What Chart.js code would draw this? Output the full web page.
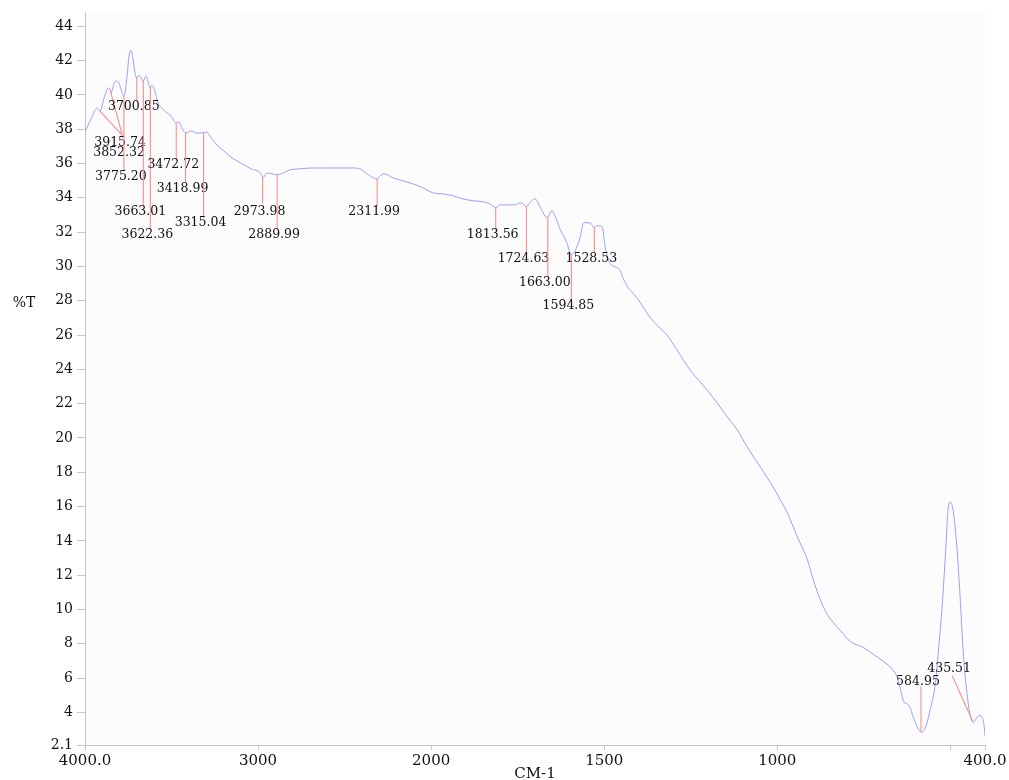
<!DOCTYPE html>
<html>
<head>
<meta charset="utf-8">
<script src="https://cdn.jsdelivr.net/npm/chart.js@4.4.1/dist/chart.umd.min.js"></script>
<style>
  html, body { margin: 0; padding: 0; background: #fff; }
  #wrap { width: 1009px; height: 780px; }
</style>
</head>
<body>
<div id="wrap"><canvas id="chart" width="1009" height="780"></canvas></div>
<script>
// IR spectrum (cm-1 / %T)
const wavenumbers = [
  4000, 3965, 3931, 3913, 3890, 3867, 3856, 3850, 3832, 3821,
  3804, 3792, 3775, 3757, 3746, 3734, 3723, 3711, 3700, 3688,
  3676, 3665, 3648, 3636, 3624, 3613, 3596, 3578, 3555, 3526,
  3503, 3474, 3457, 3440, 3417, 3388, 3353, 3324, 3295, 3278,
  3243, 3197, 3151, 3099, 3041, 2983, 2972, 2949, 2920, 2891,
  2856, 2815, 2758, 2683, 2602, 2527, 2452, 2411, 2371, 2342,
  2313, 2295, 2272, 2220, 2163, 2105, 2047, 1995, 1966, 1937,
  1908, 1879, 1850, 1830, 1813, 1801, 1781, 1758, 1743, 1735,
  1726, 1715, 1700, 1691, 1677, 1665, 1651, 1642, 1628, 1608,
  1596, 1584, 1570, 1559, 1547, 1535, 1530, 1521, 1506, 1497,
  1483, 1469, 1454, 1445, 1431, 1416, 1396, 1376, 1347, 1318,
  1289, 1251, 1202, 1173, 1144, 1115, 1087, 1049, 1012, 991,
  971, 942, 913, 896, 876, 855, 838, 818, 789, 751,
  722, 693, 667, 653, 644, 635, 627, 618, 607, 595,
  584, 572, 558, 543, 535, 523, 514, 506, 500, 491,
  480, 471, 462, 451, 442, 434, 425, 416, 408, 402,
  400
]
const transmittance = [
  37.84, 38.60, 39.23, 39.06, 39.81, 40.40, 40.34, 40.10, 40.69, 40.80,
  40.69, 40.34, 39.93, 41.09, 42.26, 42.60, 42.14, 41.27, 40.98, 41.15,
  40.98, 40.80, 41.09, 40.80, 40.40, 40.57, 40.22, 39.52, 39.23, 38.94,
  38.77, 38.36, 38.42, 38.07, 37.78, 37.90, 37.78, 37.78, 37.84, 37.60,
  37.14, 36.73, 36.33, 36.03, 35.69, 35.40, 35.16, 35.45, 35.40, 35.34,
  35.45, 35.63, 35.69, 35.74, 35.74, 35.74, 35.74, 35.69, 35.40, 35.22,
  35.10, 35.28, 35.40, 35.16, 34.99, 34.81, 34.58, 34.29, 34.23, 34.12,
  33.94, 33.83, 33.77, 33.65, 33.42, 33.59, 33.59, 33.59, 33.71, 33.65,
  33.48, 33.71, 33.94, 33.71, 33.13, 32.84, 33.24, 32.95, 32.20, 31.38,
  30.69, 30.92, 31.67, 32.55, 32.55, 32.43, 32.26, 32.37, 32.31, 31.09,
  30.16, 29.99, 29.76, 29.29, 28.77, 28.42, 27.90, 27.26, 26.56, 25.98,
  25.10, 23.94, 22.78, 22.02, 21.21, 20.45, 19.47, 18.30, 17.14, 16.38,
  15.63, 14.23, 12.90, 11.73, 10.57, 9.70, 9.23, 8.77, 8.13, 7.78,
  7.37, 6.97, 6.50, 6.03, 5.34, 4.64, 4.52, 4.35, 3.71, 3.13,
  2.84, 3.13, 4.17, 5.74, 7.49, 10.40, 13.30, 15.98, 16.27, 15.63,
  13.30, 10.40, 7.26, 4.93, 3.77, 3.42, 3.65, 3.83, 3.71, 3.13,
  2.60
]

const yTicks = [2.1, 4, 6, 8, 10, 12, 14, 16, 18, 20, 22, 24, 26, 28, 30, 32, 34, 36, 38, 40, 42, 44]
const xTickWavenumbers = [4000, 3000, 2000, 1500, 1000, 500, 400]
const xTickLabels = ['4000.0', '3000', '2000', '1500', '1000', '', '400.0']

// peak picks: label, where the leader line ends, where the text sits
const peakLabels = ['3915.74', '3852.32', '3775.20', '3700.85', '3663.01', '3622.36', '3472.72', '3418.99', '3315.04',
  '2973.98', '2889.99', '2311.99', '1813.56', '1724.63', '1663.00', '1594.85', '1528.53', '584.95', '435.51']
const peakEndWn = [3780, 3786, 3775.20, 3700.85, 3663.01, 3622.36, 3472.72, 3418.99, 3315.04,
  2973.98, 2889.99, 2311.99, 1813.56, 1724.63, 1663.00, 1594.85, 1528.53, 584.95, 495]
const peakEndT = [37.60, 37.72, 35.57, 39.64, 33.48, 32.14, 36.21, 34.87, 32.84,
  33.65, 32.20, 33.53, 32.08, 30.80, 29.35, 28.07, 30.80, 5.51, 6.15]
const peakTextT = [37.20, 36.62, 35.22, 39.29, 33.19, 31.85, 35.92, 34.52, 32.55,
  33.19, 31.85, 33.19, 31.85, 30.45, 29.06, 27.72, 30.45, 5.80, 6.56]

// the scan halves the scale above 2000 cm-1
function toPos(w) {
  return w >= 2000 ? (4000 - w) / 2 : 1000 + (2000 - w)
}

function curveAt(w) {
  for (let i = 0; i < wavenumbers.length - 1; i++) {
    const a = wavenumbers[i], b = wavenumbers[i + 1]
    if (w <= a && w >= b) {
      const t = (a - w) / (a - b)
      return transmittance[i] + t * (transmittance[i + 1] - transmittance[i])
    }
  }
  return transmittance[transmittance.length - 1]
}

const FONT = "'DejaVu Serif', 'Liberation Serif', serif"
const TEXT = '#111'

const spectrumDecor = {
  id: 'spectrumDecor',
  beforeDraw(chart) {
    const { ctx, chartArea: a } = chart
    ctx.save()
    ctx.fillStyle = '#fcfcfc'
    ctx.fillRect(a.left, a.top, a.right - a.left, a.bottom - a.top)
    ctx.restore()
  },
  afterDatasetsDraw(chart) {
    const { ctx, scales: { x, y } } = chart
    ctx.save()
    ctx.lineWidth = 1.1
    ctx.strokeStyle = 'rgb(255, 140, 140)'
    ctx.font = '12.5px ' + FONT
    ctx.fillStyle = TEXT
    ctx.textAlign = 'center'
    ctx.textBaseline = 'middle'

    peakLabels.forEach((lab, i) => {
      const wn = parseFloat(lab)
      const x0 = x.getPixelForValue(toPos(wn))
      const y0 = y.getPixelForValue(curveAt(wn))
      const x1 = x.getPixelForValue(toPos(peakEndWn[i]))
      const y1 = y.getPixelForValue(peakEndT[i])
      ctx.beginPath()
      ctx.moveTo(x0, y0)
      ctx.lineTo(x1, y1)
      ctx.stroke()
      ctx.fillText(lab, x1 - 3, y.getPixelForValue(peakTextT[i]))
    })

    // axis titles
    ctx.font = '14px ' + FONT
    ctx.fillText('%T', 24, y.getPixelForValue(28) + 3)
    ctx.font = '15px ' + FONT
    ctx.fillText('CM-1', (x.left + x.right) / 2, chart.height - 6)
    ctx.restore()
  }
}

const ctx = document.getElementById('chart').getContext('2d')

new Chart(ctx, {
  type: 'line',
  data: {
    datasets: [{
      data: wavenumbers.map((w, i) => ({ x: toPos(w), y: transmittance[i] })),
      borderColor: '#9d9dfa',
      borderWidth: 1,
      pointRadius: 0,
      cubicInterpolationMode: 'monotone',
      fill: false
    }]
  },
  options: {
    responsive: false,
    animation: false,
    devicePixelRatio: 1,
    layout: { padding: { top: 11, right: 24, left: 0, bottom: 0 } },
    plugins: {
      legend: { display: false },
      tooltip: { enabled: false }
    },
    scales: {
      x: {
        type: 'linear',
        min: 0,
        max: toPos(400),
        afterBuildTicks: (scale) => {
          scale.ticks = xTickWavenumbers.map(w => ({ value: toPos(w) }))
        },
        afterFit: (scale) => { scale.height = 35 },
        ticks: {
          autoSkip: false,
          maxRotation: 0,
          padding: 2,
          color: TEXT,
          font: { family: FONT, size: 15 },
          callback: (value, index) => xTickLabels[index]
        },
        grid: { drawOnChartArea: false, tickLength: 5, color: '#c8c8c8' },
        border: { color: '#c4c4c4' }
      },
      y: {
        min: 2.1,
        max: 44.81,
        afterBuildTicks: (scale) => {
          scale.ticks = yTicks.map(v => ({ value: v }))
        },
        afterFit: (scale) => { scale.width = 85 },
        ticks: {
          autoSkip: false,
          padding: 4,
          color: TEXT,
          font: { family: FONT, size: 14 },
          callback: (value) => value === 2.1 ? '2.1' : String(value)
        },
        grid: { drawOnChartArea: false, tickLength: 8, color: '#c8c8c8' },
        border: { color: '#c4c4c4' }
      }
    }
  },
  plugins: [spectrumDecor]
})
</script>
</body>
</html>
